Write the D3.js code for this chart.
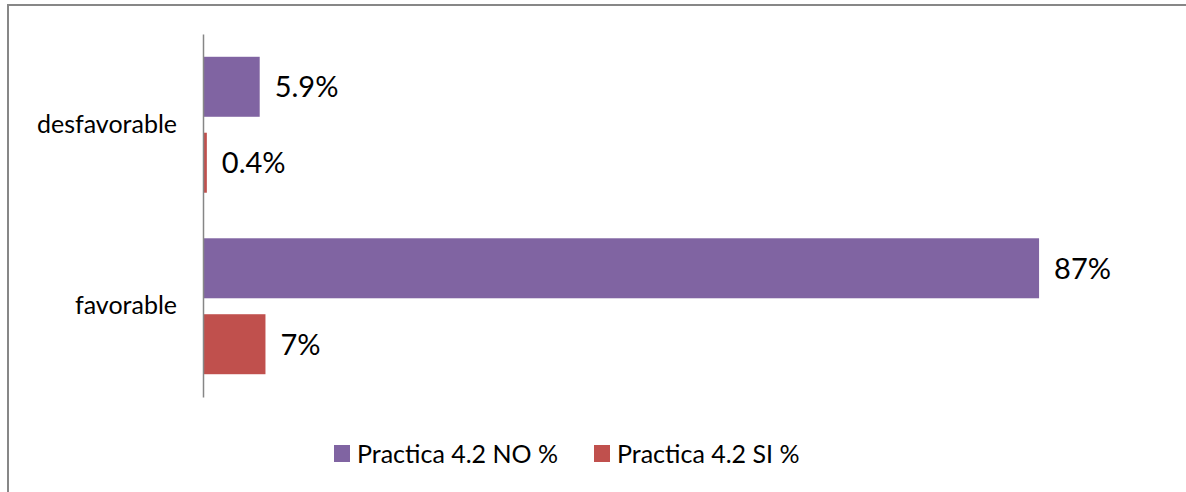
<!DOCTYPE html>
<html>
<head>
<meta charset="utf-8">
<script src="https://cdn.jsdelivr.net/npm/d3@7"></script>
<style>
  html, body { margin: 0; padding: 0; background: #fff; }
  svg { display: block; }
  text { font-family: Lato, "Open Sans", sans-serif; fill: #000; }
</style>
</head>
<body>
<svg id="chart" width="1186" height="492"></svg>
<script>
const categories = ["desfavorable", "favorable"];
const seriesNames = ["Practica 4.2 NO %", "Practica 4.2 SI %"];
const seriesKeys = ["NO", "SI"];
const valuesNO = [5.9, 87];
const valuesSI = [0.4, 6.5];
const labelsNO = ["5.9%", "87%"];
const labelsSI = ["0.4%", "7%"];
const colors = ["#8064A2", "#C0504D"];

const svg = d3.select("#chart");
svg.append("rect").attr("width", 1186).attr("height", 492).attr("fill", "#fff");

// outer chart border (right/bottom edges fall outside the picture)
svg.append("rect")
  .attr("x", 8).attr("y", 5)
  .attr("width", 1200).attr("height", 520)
  .attr("fill", "none").attr("stroke", "#878787").attr("stroke-width", 2);

const x0 = 203;
const x = d3.scaleLinear().domain([0, 100]).range([x0, x0 + 961]);
const y0 = d3.scaleBand().domain(categories).range([34, 397]).padding(0);
const y1 = d3.scaleBand().domain(seriesKeys).range([0, y0.bandwidth()])
  .paddingInner(0.21).paddingOuter(0.30);

const data = categories.map((c, i) => ({
  cat: c,
  items: [
    { key: "NO", v: valuesNO[i], label: labelsNO[i], color: colors[0] },
    { key: "SI", v: valuesSI[i], label: labelsSI[i], color: colors[1] }
  ]
}));

const groups = svg.selectAll("g.cat").data(data).enter().append("g")
  .attr("class", "cat")
  .attr("transform", d => `translate(0,${y0(d.cat)})`);

groups.selectAll("rect").data(d => d.items).enter().append("rect")
  .attr("x", x(0))
  .attr("y", d => y1(d.key))
  .attr("width", d => x(d.v) - x(0))
  .attr("height", y1.bandwidth())
  .attr("fill", d => d.color);

groups.selectAll("text.val").data(d => d.items).enter().append("text")
  .attr("class", "val")
  .attr("x", d => x(d.v) + 15)
  .attr("y", d => y1(d.key) + y1.bandwidth() / 2)
  .attr("dy", "0.36em")
  .attr("font-size", 29)
  .text(d => d.label);

// category axis
const axis = d3.axisLeft(y0).tickSize(0).tickPadding(26);
const ag = svg.append("g").attr("transform", `translate(${x0},0)`).call(axis);
ag.select(".domain").attr("stroke", "#868686").attr("stroke-width", 1.5);
ag.selectAll("text").attr("font-size", 25).attr("font-family", "Lato, sans-serif").attr("fill", "#000");

// legend
const legendX = [334, 594];
const lg = svg.selectAll("g.leg").data(seriesNames).enter().append("g")
  .attr("class", "leg")
  .attr("transform", (d, i) => `translate(${legendX[i]},445)`);
lg.append("rect").attr("width", 16).attr("height", 17).attr("fill", (d, i) => colors[i]);
lg.append("text").attr("x", 23).attr("y", 18).attr("font-size", 25).text(d => d);
</script>
</body>
</html>
